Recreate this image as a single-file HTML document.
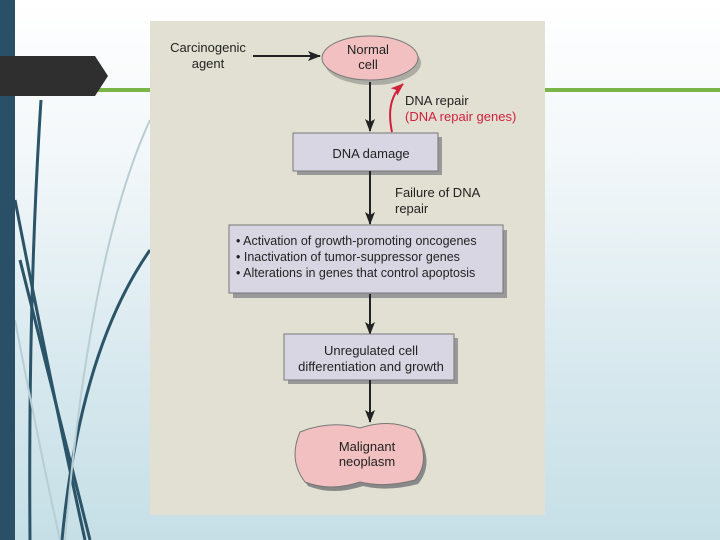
<!DOCTYPE html>
<html><head><style>
body{margin:0;width:720px;height:540px;overflow:hidden;font-family:"Liberation Sans",sans-serif;}
.bg{position:absolute;left:0;top:0;width:720px;height:540px;background:linear-gradient(#ffffff 0%,#f2f7f9 30%,#d6e8ee 70%,#c6dfe6 100%);}
</style></head><body>
<div class="bg"></div>
<svg width="720" height="540" style="position:absolute;left:0;top:0">
<rect x="95" y="88" width="625" height="4" fill="#7ab648"/>
<g fill="none" stroke="#2b5468" stroke-width="3">
<path d="M41 100 Q28 300 30 540"/>
<path d="M15 200 Q50 380 85 540"/>
<path d="M20 260 Q60 420 90 540"/>
<path d="M150 250 Q80 350 62 540"/>
</g>
<g fill="none" stroke="#b8cdd4" stroke-width="2">
<path d="M150 120 Q90 250 65 540"/>
<path d="M15 320 Q40 450 60 540"/>
</g>
<rect x="0" y="0" width="15" height="540" fill="#2a5068"/>
<polygon points="0,56 95,56 108,76 95,96 0,96" fill="#2f2f2f"/>
<rect x="150" y="21" width="395" height="494" fill="#e1e0d2"/>
<defs><marker id="a" markerWidth="13" markerHeight="10" refX="12" refY="5" orient="auto" markerUnits="userSpaceOnUse"><path d="M0,0 L13,5 L0,10 L3,5 z" fill="#222"/></marker>
<marker id="r" markerWidth="13" markerHeight="10" refX="12" refY="5" orient="auto" markerUnits="userSpaceOnUse"><path d="M0,0 L13,5 L0,10 L3,5 z" fill="#d0203c"/></marker></defs>
<g font-size="13" fill="#222" text-anchor="middle">
<text x="208" y="52">Carcinogenic</text><text x="208" y="68">agent</text>
<line x1="253" y1="56" x2="320" y2="56" stroke="#222" stroke-width="2" marker-end="url(#a)"/>
<ellipse cx="370" cy="60" rx="48" ry="22" fill="#777" opacity=".5" transform="translate(3,3)"/>
<ellipse cx="370" cy="58" rx="48" ry="22" fill="#f2c0c0" stroke="#777"/>
<text x="368" y="54">Normal</text><text x="368" y="69">cell</text>
<line x1="370" y1="82" x2="370" y2="131" stroke="#222" stroke-width="2" marker-end="url(#a)"/>
<path d="M392 132 Q385 100 403 84" fill="none" stroke="#d0203c" stroke-width="2" marker-end="url(#r)"/>
<text x="405" y="105" text-anchor="start">DNA repair</text>
<text x="405" y="121" text-anchor="start" fill="#d0203c">(DNA repair genes)</text>
<rect x="297" y="137" width="145" height="38" fill="#999"/>
<rect x="293" y="133" width="145" height="38" fill="#d9d6e4" stroke="#777"/>
<text x="371" y="158">DNA damage</text>
<line x1="370" y1="171" x2="370" y2="224" stroke="#222" stroke-width="2" marker-end="url(#a)"/>
<text x="395" y="197" text-anchor="start">Failure of DNA</text><text x="395" y="213" text-anchor="start">repair</text>
<rect x="233" y="230" width="274" height="68" fill="#999"/>
<rect x="229" y="225" width="274" height="68" fill="#d9d6e4" stroke="#777"/>
<g text-anchor="start" font-size="12.5"><text x="236" y="245">• Activation of growth-promoting oncogenes</text>
<text x="236" y="261">• Inactivation of tumor-suppressor genes</text>
<text x="236" y="277">• Alterations in genes that control apoptosis</text></g>
<line x1="370" y1="294" x2="370" y2="334" stroke="#222" stroke-width="2" marker-end="url(#a)"/>
<rect x="288" y="338" width="170" height="46" fill="#999"/>
<rect x="284" y="334" width="170" height="46" fill="#d9d6e4" stroke="#777"/>
<text x="371" y="355">Unregulated cell</text><text x="371" y="371">differentiation and growth</text>
<line x1="370" y1="380" x2="370" y2="422" stroke="#222" stroke-width="2" marker-end="url(#a)"/>
<path d="M300 432 Q330 420 360 428 Q390 418 415 430 Q432 460 415 480 Q385 488 360 482 Q330 492 305 482 Q288 460 300 432z" fill="#888" transform="translate(3,4)"/>
<path d="M300 432 Q330 420 360 428 Q390 418 415 430 Q432 460 415 480 Q385 488 360 482 Q330 492 305 482 Q288 460 300 432z" fill="#f2c0c0" stroke="#777"/>
<text x="367" y="451">Malignant</text><text x="367" y="466">neoplasm</text>
</g>
</svg>
</body></html>
